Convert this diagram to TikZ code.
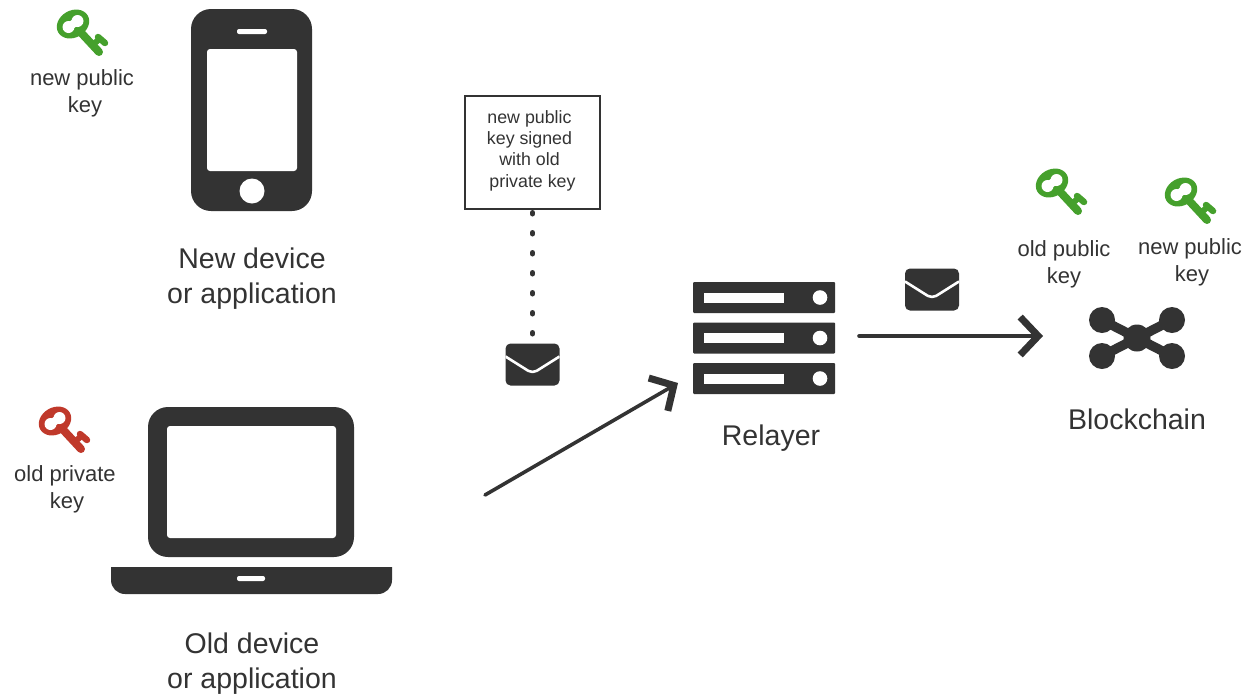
\documentclass[tikz,border=0pt]{standalone}
\usepackage{fontspec}
\setmainfont{Liberation Sans}
\usetikzlibrary{arrows.meta}

\definecolor{ink}{HTML}{333333}
\definecolor{keygreen}{HTML}{45A02C}
\definecolor{keyred}{HTML}{C0392B}

\tikzset{
  biglabel/.style = {
    text = ink, align = center, inner sep = 0pt,
    font = \fontsize{28.5}{35}\selectfont
  },
  keylabel/.style = {
    text = ink, align = center, inner sep = 0pt,
    font = \fontsize{22}{27}\selectfont
  },
  envelope/.style = {
    rectangle, fill = ink, rounded corners = 5pt, inner sep = 0pt,
    minimum width = 54pt, minimum height = 42pt,
    path picture = {
      \draw [white, line width = 2.6pt, line join = round]
        ([yshift = 8pt] path picture bounding box.west)
        -- ([yshift = -9pt] path picture bounding box.center)
        -- ([yshift = 8pt] path picture bounding box.east);
    }
  },
  flow/.style = {
    draw = ink, line width = 3.6pt, line cap = round,
    -{Straight Barb[length = 18pt, width = 38pt, line width = 7pt, line cap = butt]}
  },
  pics/keyicon/.style = {
    code = {
      \draw [#1, line width = 8pt, line cap = round] (0,0) -- (26,28);
      \draw [#1, line width = 6pt] (19,21.5) -- (27,14.5);
      \draw [#1, line width = 6.5pt, line cap = round] (25,13) -- (32,19);
      \fill [#1, rotate = 30] (0,0) ellipse [x radius = 17, y radius = 13.5];
      \fill [white] (-4.5,3) circle [radius = 6];
      \fill [white] (4.5,-3) circle [radius = 6];
      \draw [white, line width = 8pt] (-4.5,3) -- (4.5,-3);
    }
  }
}

\begin{document}
\begin{tikzpicture}[x = 1pt, y = -1pt]
  \useasboundingbox (0,0) rectangle (1255,694);

  % phone
  \fill [ink, rounded corners = 20pt] (191,9) rectangle (312,211);
  \fill [white, rounded corners = 3pt] (207,49) rectangle (297,171);
  \fill [white, rounded corners = 2pt] (237,29) rectangle (267,34);
  \fill [white] (252,191) circle [radius = 12.5];
  \pic (newkey) at (73,24) {keyicon = keygreen};
  \node [keylabel] (newkeytext) at (82,93) {new public\\\hspace*{6pt}key};
  \node [biglabel] (newdevice) at (252,279) {New device\\or application};

  % laptop
  \fill [ink, rounded corners = 20pt] (148,407) rectangle (354,557);
  \fill [white, rounded corners = 3pt] (167,426) rectangle (336,538);
  \fill [ink] (111,567) -- (392,567) [rounded corners = 14pt] -- (392,594)
    -- (111,594) [sharp corners] -- cycle;
  \fill [white, rounded corners = 2pt] (237,576) rectangle (265,581);
  \pic (oldprivkey) at (55,421) {keyicon = keyred};
  \node [keylabel] (oldprivtext) at (65,489) {old private\\\hspace*{4pt}key};
  \node [biglabel] (olddevice) at (252,664) {Old device\\or application};

  % signed message
  \node [draw = ink, line width = 2pt, minimum width = 135pt,
    minimum height = 113pt, inner sep = 0pt, text = ink,
    font = \fontsize{17.8}{21.3}\selectfont] (signedbox) at (532.5,152.5)
    {\raisebox{2pt}[\height][\depth]{\parbox{134pt}{\centering
      \hspace*{-6pt}new public\\\hspace*{-6pt}key signed\\\hspace*{-6pt}with old\\private key}}};
  \node [envelope] (sendmail) at (532.5,364.5) {};
  \draw [ink, line width = 5pt, line cap = round,
    dash pattern = on 1.5pt off 18.5pt, shorten < = 2.5pt, shorten > = 8pt]
    (signedbox.south) -- (sendmail.north);

  % relayer
  \foreach \rowy in {297.5, 338, 378.5} {
    \fill [ink, rounded corners = 1pt] (693,\rowy-15.5) rectangle (835,\rowy+15.5);
    \fill [white] (704,\rowy-5) rectangle (784,\rowy+5);
    \fill [white] (820,\rowy) circle [radius = 7.3];
  }
  \node [biglabel] (relayer) at (771,438) {Relayer};

  % blockchain
  \node [envelope] (relaymail) at (932,289.5) {};
  \foreach \ptx/\pty in {1102/320, 1172/320, 1102/356, 1172/356} {
    \draw [ink, line width = 9.5pt] (1137,338) -- (\ptx,\pty);
    \fill [ink] (\ptx,\pty) circle [radius = 13];
  }
  \fill [ink] (1137,338) circle [radius = 13.5];
  \node [biglabel] (blockchain) at (1137,419) {Blockchain};
  \pic (oldpubkey) at (1052,183) {keyicon = keygreen};
  \node [keylabel] (oldpubtext) at (1064,264) {old public\\key};
  \pic (newpubkey) at (1181,192) {keyicon = keygreen};
  \node [keylabel] (newpubtext) at (1190,262.5) {new public\\\hspace*{4pt}key};

  % arrows
  \coordinate (laptopout) at (485,495);
  \coordinate (relayerin) at (678,383);
  \coordinate (relayerout) at (859,336);
  \coordinate (chainin) at (1043,336);
  \draw [flow] (laptopout) -- (relayerin);
  \draw [flow] (relayerout) -- (chainin);
\end{tikzpicture}
\end{document}
